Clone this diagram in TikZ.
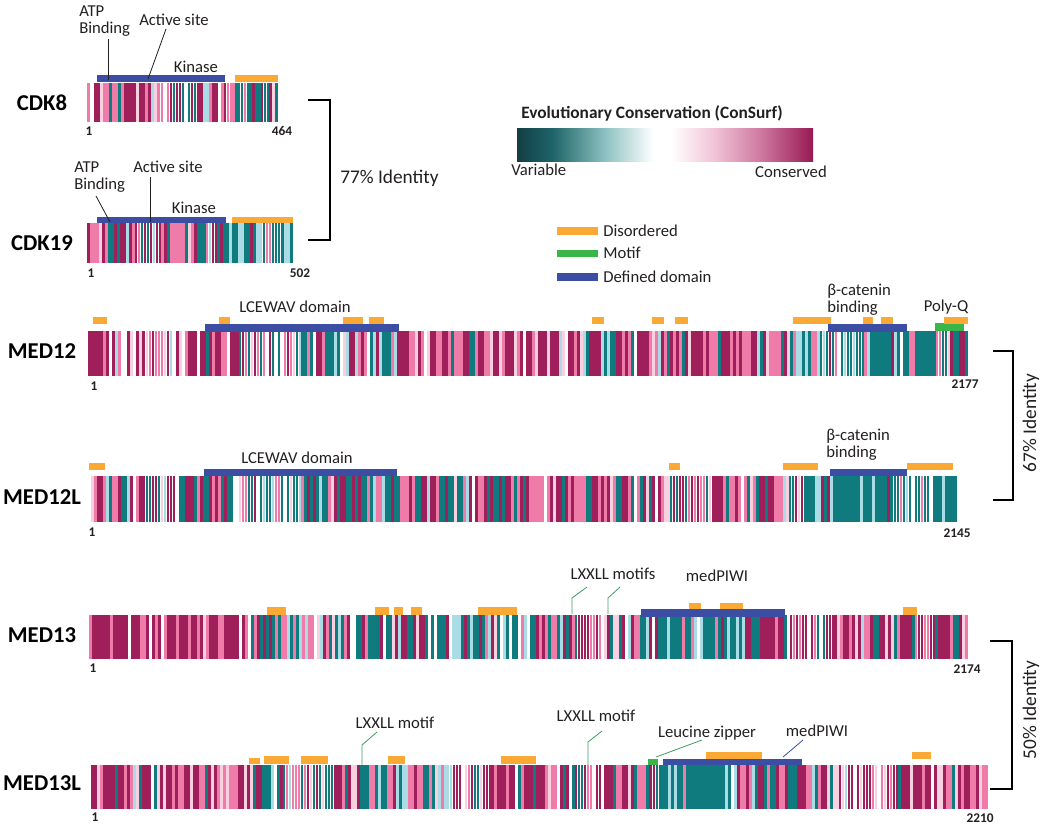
\documentclass[tikz,border=0pt]{standalone}
\usepackage{fontspec}
\setmainfont{Carlito}
\usetikzlibrary{positioning, calc}
\definecolor{cmag}{HTML}{9E1F5A}
\definecolor{cpink}{HTML}{EE7BA8}
\definecolor{clpink}{HTML}{F8D0E0}
\definecolor{cteal}{HTML}{0F7B7E}
\definecolor{clblue}{HTML}{A9DCE4}
\definecolor{domain}{HTML}{3C4EA3}
\definecolor{disorder}{HTML}{FBA935}
\definecolor{motif}{HTML}{3AB54A}
\definecolor{leadgreen}{HTML}{3E9B62}
\definecolor{ink}{HTML}{231F20}
\definecolor{gdteal}{HTML}{123F45}
\definecolor{gteal}{HTML}{1E6468}
\definecolor{gmteal}{HTML}{8FC2C2}
\definecolor{gpink}{HTML}{F2C6D8}
\definecolor{gmpink}{HTML}{CF7BA0}
\definecolor{gmag}{HTML}{981955}
\pgfdeclarehorizontalshading{consurf}{100bp}{color(0bp)=(gdteal); color(25bp)=(gdteal);
  color(31bp)=(gteal); color(40bp)=(gmteal); color(48bp)=(white); color(51bp)=(white);
  color(58bp)=(gpink); color(66bp)=(gmpink); color(75bp)=(gmag); color(100bp)=(gmag)}
\tikzset{
  pname/.style={font=\bfseries\fontsize{17}{17}\selectfont, text=black, inner sep=0pt, anchor=base},
  plabel/.style={font=\fontsize{12.5}{13}\selectfont, text=ink, inner sep=0pt, anchor=base},
  numlbl/.style={font=\bfseries\fontsize{10}{10}\selectfont, text=ink, inner sep=0pt, anchor=base},
  domainbar/.style={fill=domain},
  disbar/.style={fill=disorder},
  motifbar/.style={fill=motif},
  leader/.style={draw=#1, line width=0.6pt},
  leader/.default=ink,
  bracket/.style={draw=black, line width=1.8pt}
}
% one stretch of conservation stripes
\newcommand\barseg[5]{%
  \pgfmathtruncatemacro\nb{max(1,round((#2-#1)/3))}%
  \pgfmathsetmacro\bw{(#2-#1)/\nb}%
  \foreach \k in {1,...,\nb}{%
    \pgfmathsetmacro\ra{rnd}%
    \pgfmathsetmacro\rb{rnd}%
    \ifdim\ra pt<#5pt
      \ifdim\rb pt<0.72pt \def\bc{cteal}\else\ifdim\rb pt<0.93pt \def\bc{clblue}\else\def\bc{white}\fi\fi
    \else
      \ifdim\rb pt<0.52pt \def\bc{cmag}\else\ifdim\rb pt<0.85pt \def\bc{cpink}\else\ifdim\rb pt<0.96pt \def\bc{clpink}\else\def\bc{white}\fi\fi\fi
    \fi
    \fill[\bc] ({#1+(\k-1)*\bw},#3) rectangle ++(0.9*\bw,#4-#3);
  }%
}
\newcommand\protstrip[3]{\foreach \xa/\xb/\tf in {#3}{\barseg{\xa}{\xb}{#1}{#2}{\tf}}}

\begin{document}
\begin{tikzpicture}[x=0.75pt, y=-0.75pt]
  \useasboundingbox (0,0) rectangle (1048,826);
  \pgfmathsetseed{4217}

  % CDK8
  \node[pname] (cdk8) at (42,110) {CDK8};
  \protstrip{83}{122}{87/97/0.3, 97/224/0.35, 224/235/0.2, 235/258/0.85, 258/278/0.45}
  \fill[domainbar] (97,75) rectangle (225,82);
  \fill[disbar] (235,75) rectangle (278,82);
  \node[plabel] (cdk8kin) at (196,72) {Kinase};
  \node[plabel, anchor=north west, align=left] (cdk8atp) at (79,5.5) {ATP\\Binding};
  \node[plabel] (cdk8act) at (174,25) {Active site};
  \coordinate (cdk8atpT) at (108,39);
  \coordinate (cdk8atpB) at (108,80);
  \coordinate (cdk8actT) at (166,29);
  \coordinate (cdk8actB) at (148,79);
  \draw[leader] (cdk8atpT) -- (cdk8atpB);
  \draw[leader] (cdk8actT) -- (cdk8actB);
  \node[numlbl] (cdk8first) at (89,135) {1};
  \node[numlbl] (cdk8last) at (282,135) {464};

  % CDK19
  \node[pname] (cdk19) at (42,250) {CDK19};
  \protstrip{223}{263}{87/120/0.25, 120/200/0.3, 200/232/0.55, 232/293/0.8}
  \fill[domainbar] (97,217) rectangle (226,223);
  \fill[disbar] (232,217) rectangle (293,223);
  \node[plabel] (cdk19kin) at (194,213) {Kinase};
  \node[plabel, anchor=north west, align=left] (cdk19atp) at (74,161.5) {ATP\\Binding};
  \node[plabel] (cdk19act) at (168,172) {Active site};
  \coordinate (cdk19atpT) at (96,196);
  \coordinate (cdk19atpB) at (110,222);
  \coordinate (cdk19actT) at (150,177);
  \coordinate (cdk19actB) at (150,222);
  \draw[leader] (cdk19atpT) -- (cdk19atpB);
  \draw[leader] (cdk19actT) -- (cdk19actB);
  \node[numlbl] (cdk19first) at (91,277) {1};
  \node[numlbl] (cdk19last) at (300,277) {502};

  \coordinate (b77a) at (308,100);
  \coordinate (b77b) at (308,240);
  \draw[bracket] (b77a) -- ++(22,0) |- (b77b);
  \node[plabel, anchor=base west, font=\fontsize{14.5}{14.5}\selectfont] (id77) at (340,183) {77\% Identity};

  % Legend
  \node[plabel, font=\bfseries\fontsize{13}{13}\selectfont] (legtitle) at (652,118) {Evolutionary Conservation (ConSurf)};
  \shade[shading=consurf] (517,128) rectangle (813,161);
  \node[plabel, anchor=base west] (legvar) at (511,175) {Variable};
  \node[plabel, anchor=base east] (legcons) at (827,177) {Conserved};
  \fill[disbar] (557,227) rectangle (598,235);
  \fill[motifbar] (557,250) rectangle (598,257);
  \fill[domainbar] (557,273) rectangle (598,281);
  \node[plabel, anchor=base west] (legdis) at (603,236) {Disordered};
  \node[plabel, anchor=base west] (legmot) at (603,258) {Motif};
  \node[plabel, anchor=base west] (legdom) at (603,282) {Defined domain};

  % MED12
  \node[pname] (med12) at (42,358) {MED12};
  \protstrip{331}{376}{88/200/0.12, 200/400/0.45, 400/580/0.1, 580/640/0.4, 640/790/0.12, 790/930/0.85, 930/968/0.5}
  \fill[domainbar] (205,324) rectangle (399,332);
  \fill[domainbar] (828,324) rectangle (907,332);
  \fill[motifbar] (935,323) rectangle (964,331);
  \foreach \xa/\xb in {93/107, 219/230, 343/363, 369/384, 592/604, 652/664, 675/688, 793/831, 863/873, 881/893, 944/968}
    \fill[disbar] (\xa,317) rectangle (\xb,324);
  \node[plabel] (med12lcw) at (295,312) {LCEWAV domain};
  \node[plabel, anchor=north west, align=left] (med12bcat) at (827,283.5) {β-catenin\\binding};
  \node[plabel] (med12pq) at (946,311) {Poly-Q};
  \node[numlbl] (med12first) at (94,390) {1};
  \node[numlbl] (med12last) at (965,388) {2177};

  % MED12L
  \node[pname] (med12l) at (42,504) {MED12L};
  \protstrip{476}{522}{88/200/0.35, 200/400/0.5, 400/640/0.3, 640/780/0.2, 780/830/0.75, 830/957/0.85}
  \fill[domainbar] (204,469) rectangle (397,476);
  \fill[domainbar] (830,469) rectangle (907,476);
  \foreach \xa/\xb in {89/105, 669/680, 783/818, 907/953}
    \fill[disbar] (\xa,463) rectangle (\xb,470);
  \node[plabel] (med12llcw) at (297,463) {LCEWAV domain};
  \node[plabel, anchor=north west, align=left] (med12lbcat) at (826,428.5) {β-catenin\\binding};
  \node[numlbl] (med12lfirst) at (92,536) {1};
  \node[numlbl] (med12llast) at (957,537) {2145};

  \coordinate (b67a) at (993,351);
  \coordinate (b67b) at (993,500);
  \draw[bracket] (b67a) -- ++(20,0) |- (b67b);
  \node[plabel, anchor=center, rotate=90, font=\fontsize{14.5}{14.5}\selectfont] (id67) at (1031,423) {67\% Identity};

  % MED13
  \node[pname] (med13) at (42,642) {MED13};
  \protstrip{615}{659}{89/230/0.08, 230/560/0.55, 560/640/0.35, 640/760/0.8, 760/900/0.12, 900/968/0.25}
  \fill[domainbar] (641,609) rectangle (785,617);
  \foreach \xa/\xb in {267/286, 375/389, 394/403, 411/422, 478/517, 903/917}
    \fill[disbar] (\xa,607) rectangle (\xb,615);
  \foreach \xa/\xb in {689/701, 720/743}
    \fill[disbar] (\xa,603) rectangle (\xb,609);
  \node[plabel] (med13piwi) at (717,581) {medPIWI};
  \node[plabel] (med13lxxll) at (613,579) {LXXLL motifs};
  \coordinate (med13m1) at (587,587);
  \coordinate (med13m1b) at (572,614);
  \coordinate (med13m2) at (620,587);
  \coordinate (med13m2b) at (608,614);
  \draw[leader=leadgreen] (med13m1) -- (med13m1b |- 0,598) -- (med13m1b);
  \draw[leader=leadgreen] (med13m2) -- (med13m2b |- 0,598) -- (med13m2b);
  \node[numlbl] (med13first) at (93,672) {1};
  \node[numlbl] (med13last) at (967,673) {2174};

  % MED13L
  \node[pname] (med13l) at (42,790) {MED13L};
  \protstrip{765}{809}{91/250/0.12, 250/420/0.6, 420/560/0.25, 560/640/0.3, 640/665/0.2, 665/740/0.8, 740/800/0.4, 800/988/0.1}
  \fill[domainbar] (663,759) rectangle (802,765);
  \fill[motifbar] (648,759) rectangle (658,765);
  \fill[disbar] (249,758) rectangle (260,764);
  \foreach \xa/\xb in {264/289, 301/328, 388/405, 501/536}
    \fill[disbar] (\xa,756) rectangle (\xb,764);
  \foreach \xa/\xb in {706/762, 912/931}
    \fill[disbar] (\xa,752) rectangle (\xb,759);
  \node[plabel] (med13lm1) at (395,728) {LXXLL motif};
  \node[plabel] (med13lm2) at (596,721) {LXXLL motif};
  \node[plabel] (med13llz) at (707,737) {Leucine zipper};
  \node[plabel] (med13lpiwi) at (817,736) {medPIWI};
  \coordinate (med13lm1a) at (377,732);
  \coordinate (med13lm1b) at (362,765);
  \coordinate (med13lm2a) at (602,731);
  \coordinate (med13lm2b) at (588,765);
  \coordinate (med13llza) at (702,740);
  \coordinate (med13llzb) at (656,757);
  \coordinate (med13lpwa) at (803,740);
  \coordinate (med13lpwb) at (783,757);
  \draw[leader=leadgreen] (med13lm1a) -- (med13lm1b |- 0,745) -- (med13lm1b);
  \draw[leader=leadgreen] (med13lm2a) -- (med13lm2b |- 0,742) -- (med13lm2b);
  \draw[leader=leadgreen] (med13llza) -- (med13llzb);
  \draw[leader=domain] (med13lpwa) -- (med13lpwb);
  \node[numlbl] (med13lfirst) at (95,821) {1};
  \node[numlbl] (med13llast) at (980,822) {2210};

  \coordinate (b50a) at (990,641);
  \coordinate (b50b) at (990,789);
  \draw[bracket] (b50a) -- ++(22,0) |- (b50b);
  \node[plabel, anchor=center, rotate=90, font=\fontsize{14.5}{14.5}\selectfont] (id50) at (1031,710) {50\% Identity};

\end{tikzpicture}
\end{document}
